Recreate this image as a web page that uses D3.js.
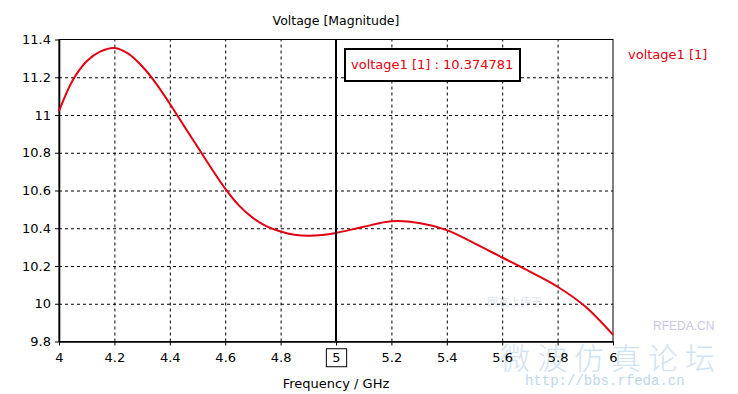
<!DOCTYPE html>
<html>
<head>
<meta charset="utf-8">
<script src="https://cdn.jsdelivr.net/npm/d3@7"></script>
<style>
  body { margin: 0; background: #fff; }
  svg { display: block; font-family: "DejaVu Sans", Verdana, sans-serif; }
</style>
</head>
<body>
<svg id="chart"></svg>
<script>
// values
const freqs = [4.0, 4.05, 4.1, 4.15, 4.2, 4.25, 4.3, 4.35, 4.4, 4.45, 4.5, 4.55, 4.6, 4.65, 4.7, 4.75, 4.8, 4.85, 4.9, 4.95, 5.0, 5.1, 5.2, 5.3, 5.4, 5.5, 5.6, 5.7, 5.8, 5.9, 6.0]
const voltage = [11.02, 11.185, 11.285, 11.337, 11.355, 11.325, 11.258, 11.168, 11.06, 10.945, 10.832, 10.718, 10.61, 10.52, 10.455, 10.41, 10.383, 10.366, 10.36, 10.364, 10.375, 10.408, 10.437, 10.428, 10.39, 10.32, 10.245, 10.17, 10.09, 9.985, 9.835]
const xTicks = [4, 4.2, 4.4, 4.6, 4.8, 5, 5.2, 5.4, 5.6, 5.8, 6]
const yTicks = [9.8, 10, 10.2, 10.4, 10.6, 10.8, 11, 11.2, 11.4]
const markerFreq = 5
const markerValue = '10.374781'
const seriesName = 'voltage1 [1]'

const W = 738, H = 394
const LEFT = 59, RIGHT = 613, TOP = 39.5, BOTTOM = 341.5
const RED = '#e00010'

const svg = d3.select('#chart').attr('width', W).attr('height', H)

const x = d3.scaleLinear().domain([4, 6]).range([LEFT, RIGHT])
const y = d3.scaleLinear().domain([9.8, 11.4]).range([BOTTOM, TOP])

// watermark (faint, drawn underneath)
const wm = svg.append('g').attr('class', 'watermark')
wm.append('text').attr('x', 487).attr('y', 306).attr('font-size', 11)
  .attr('font-family', '"Noto Sans CJK SC"').attr('fill', '#dbe6f0').text('网友上传于')
wm.append('text').attr('x', 653).attr('y', 330).attr('font-size', 12)
  .attr('font-family', '"Liberation Sans", Arial').attr('fill', '#cbc6e8').text('RFEDA.CN')
wm.append('text').attr('x', 500).attr('y', 369).attr('font-size', 30)
  .attr('font-family', '"Noto Sans CJK SC"').attr('font-weight', 300).attr('fill', '#cfe3f2')
  .attr('letter-spacing', 7).text('微波仿真论坛')
wm.append('text').attr('x', 525).attr('y', 385).attr('font-size', 14)
  .attr('font-family', '"Liberation Mono", monospace').attr('fill', '#bcd9ec').text('http://bbs.rfeda.cn')

// grid
svg.append('g')
  .attr('transform', `translate(0, ${BOTTOM})`)
  .call(d3.axisBottom(x).tickValues(xTicks.slice(1, -1)).tickSize(-(BOTTOM - TOP)).tickFormat(''))
  .call(g => g.select('.domain').remove())
  .call(g => g.selectAll('line').attr('stroke', '#000').attr('stroke-dasharray', '3,3'))

svg.append('g')
  .attr('transform', `translate(${LEFT}, 0)`)
  .call(d3.axisLeft(y).tickValues(yTicks.slice(1, -1)).tickSize(-(RIGHT - LEFT)).tickFormat(''))
  .call(g => g.select('.domain').remove())
  .call(g => g.selectAll('line').attr('stroke', '#000').attr('stroke-dasharray', '3,3'))

// plot frame
svg.append('rect')
  .attr('x', LEFT).attr('y', TOP)
  .attr('width', RIGHT - LEFT).attr('height', BOTTOM - TOP)
  .attr('fill', 'none').attr('stroke', '#000').attr('stroke-width', 1)

// axes
const xAxis = svg.append('g')
  .attr('transform', `translate(0, ${BOTTOM})`)
  .call(d3.axisBottom(x).tickValues(xTicks).tickSize(4).tickSizeOuter(0).tickPadding(7).tickFormat(d => d3.format('~g')(d)))
xAxis.select('.domain').attr('stroke-width', 1.6)
xAxis.selectAll('text').attr('font-size', 13).attr('fill', '#000')
  .attr('font-family', '"DejaVu Sans", sans-serif')

const yAxis = svg.append('g')
  .attr('transform', `translate(${LEFT}, 0)`)
  .call(d3.axisLeft(y).tickValues(yTicks).tickSize(4).tickSizeOuter(0).tickPadding(4).tickFormat(d => d3.format('~g')(d)))
yAxis.select('.domain').attr('stroke-width', 1.6)
yAxis.selectAll('text').attr('font-size', 13).attr('fill', '#000')
  .attr('font-family', '"DejaVu Sans", sans-serif')

// box around the marker tick label
xAxis.selectAll('.tick')
  .filter(d => d === markerFreq)
  .each(function () {
    const t = d3.select(this).select('text')
    const b = t.node().getBBox()
    d3.select(this).insert('rect', 'text')
      .attr('x', b.x - 6).attr('y', b.y - 1)
      .attr('width', b.width + 12).attr('height', b.height + 3)
      .attr('fill', '#fff').attr('stroke', '#000').attr('stroke-width', 1)
  })

// curve
const line = d3.line()
  .x(d => x(d[0]))
  .y(d => y(d[1]))
  .curve(d3.curveCatmullRom.alpha(0.5))

svg.append('path')
  .datum(d3.zip(freqs, voltage))
  .attr('fill', 'none')
  .attr('stroke', RED)
  .attr('stroke-width', 2)
  .attr('d', line)

// marker line
svg.append('line')
  .attr('x1', x(markerFreq)).attr('x2', x(markerFreq))
  .attr('y1', TOP).attr('y2', BOTTOM)
  .attr('stroke', '#000').attr('stroke-width', 2)

// marker readout box
const box = svg.append('g').attr('transform', 'translate(345, 49)')
box.append('rect')
  .attr('width', 175).attr('height', 32)
  .attr('fill', '#fff').attr('stroke', '#000').attr('stroke-width', 2)
box.append('text')
  .attr('x', 6).attr('y', 20)
  .attr('font-size', 13).attr('fill', RED)
  .text(`${seriesName} : ${markerValue}`)

// title, axis label, legend
svg.append('text')
  .attr('x', 336).attr('y', 25)
  .attr('text-anchor', 'middle').attr('font-size', 12.5)
  .text('Voltage [Magnitude]')

svg.append('text')
  .attr('x', 336).attr('y', 388)
  .attr('text-anchor', 'middle').attr('font-size', 13)
  .text('Frequency / GHz')

svg.append('text')
  .attr('x', 628).attr('y', 59)
  .attr('font-size', 13).attr('fill', RED)
  .text(seriesName)
</script>
</body>
</html>
